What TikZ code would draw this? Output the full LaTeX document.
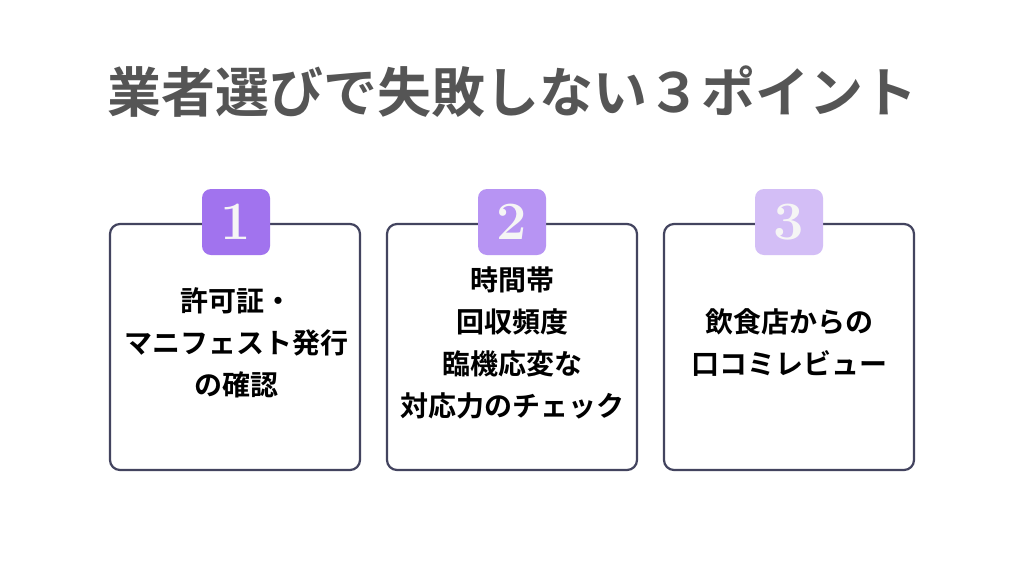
\documentclass[tikz,border=0pt]{standalone}
\usepackage{fontspec}
\newfontfamily\cjk{Noto Sans CJK JP Bold}
\definecolor{ttl}{HTML}{555555}
\definecolor{frame}{HTML}{43445F}
\definecolor{pa}{HTML}{A173EE}
\definecolor{pb}{HTML}{B794F3}
\definecolor{pc}{HTML}{D3BEF6}
\begin{document}
\begin{tikzpicture}[x=1pt,y=-1pt,
  card/.style={draw=frame,line width=2.2pt,rounded corners=10pt,fill=white},
  badge/.style={minimum width=68pt,minimum height=66pt,rounded corners=9pt,inner sep=0pt,text=white!92!gray,font=\bfseries\fontsize{54}{54}\selectfont},
  body/.style={align=center,font=\cjk\fontsize{28}{42}\selectfont,text=black}]
\useasboundingbox[fill=white] (0,0) rectangle (1024,576);
\node[font=\cjk\fontsize{54}{54}\selectfont,text=ttl] (title) at (512,92) {業者選びで失敗しない３ポイント};
\draw[card] (110,224) rectangle (360,470);
\draw[card] (387,224) rectangle (637,470);
\draw[card] (664,224) rectangle (914,470);
\node[badge,fill=pa] (b1) at (236,222) {1};
\node[badge,fill=pb] (b2) at (512,222) {2};
\node[badge,fill=pc] (b3) at (789,222) {3};
\node[body] (t1) at (236,343) {許可証・\\マニフェスト発行\\の確認};
\node[body] (t2) at (512,343) {時間帯\\回収頻度\\臨機応変な\\対応力のチェック};
\node[body] (t3) at (789,343) {飲食店からの\\口コミレビュー};
\end{tikzpicture}
\end{document}
